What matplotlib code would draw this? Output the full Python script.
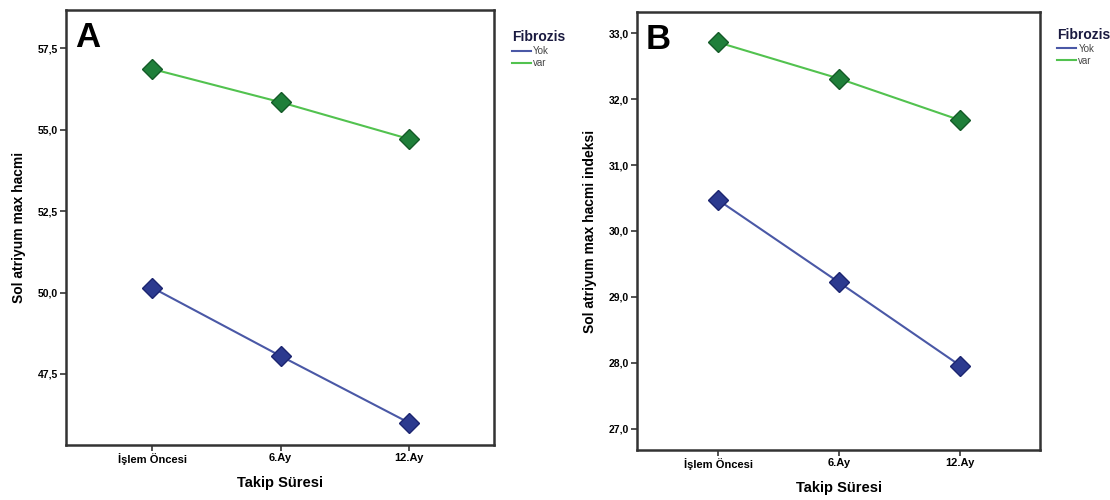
import matplotlib
matplotlib.use("Agg")
import matplotlib.pyplot as plt
from matplotlib.ticker import FuncFormatter

plt.rcParams['font.family'] = ['Liberation Sans', 'DejaVu Sans']

categories = ["İşlem Öncesi", "6.Ay", "12.Ay"]
groups = ["Yok", "var"]
vol_yok = [50.15, 48.05, 46.0]
vol_var = [56.86, 55.84, 54.71]
idx_yok = [30.47, 29.22, 27.96]
idx_var = [32.86, 32.31, 31.68]
a_ticks = [47.5, 50.0, 52.5, 55.0, 57.5]
b_ticks = [27.0, 28.0, 29.0, 30.0, 31.0, 32.0, 33.0]

line_cols = {"Yok": "#4a58a6", "var": "#52c24f"}
mk_cols = {"Yok": "#2c3a8f", "var": "#1f7f3a"}
mk_edge = {"Yok": "#1c2570", "var": "#145a28"}

fig = plt.figure(figsize=(11.1, 5.0), dpi=100)
axA = fig.add_axes([66/1110, 1-445/500, (494-66)/1110, (445-10)/500])
axB = fig.add_axes([637/1110, 1-450/500, (1040-637)/1110, (450-12)/500])

fmt = FuncFormatter(lambda v, p: f"{v:.1f}".replace(".", ","))

def panel(ax, yok, var, ylim, yticks, ylabel, letter, leg_anchor):
    x = list(range(len(categories)))
    for g, vals in (("Yok", yok), ("var", var)):
        ax.plot(x, vals, color=line_cols[g], lw=1.5, label=g, zorder=2)
        ax.plot(x, vals, ls="none", marker="D", ms=10, mfc=mk_cols[g],
                mec=mk_edge[g], mew=1.0, zorder=3)
    ax.set_xlim(-0.67, 2.66)
    ax.set_ylim(*ylim)
    ax.set_xticks(x)
    ax.set_xticklabels(categories, fontsize=8, fontweight="bold")
    ax.set_yticks(yticks)
    ax.yaxis.set_major_formatter(fmt)
    for lab in ax.get_yticklabels():
        lab.set_fontsize(7.5)
        lab.set_fontweight("bold")
    ax.tick_params(direction="out", length=4, width=1.2, color="#333333", pad=2)
    for s in ax.spines.values():
        s.set_linewidth(1.8)
        s.set_color("#333333")
    ax.set_xlabel("Takip Süresi", fontsize=10.5, fontweight="bold", labelpad=8)
    ax.set_ylabel(ylabel, fontsize=10, fontweight="bold", labelpad=8)
    ax.text(0.022, 0.975, letter, transform=ax.transAxes, fontsize=25,
            fontweight="bold", va="top", ha="left")
    leg = ax.legend(loc="upper left", bbox_to_anchor=leg_anchor, frameon=False,
                    title="Fibrozis", fontsize=7, handlelength=2.0,
                    handletextpad=0.2, labelspacing=0.2, borderpad=0.0,
                    alignment="left")
    leg.get_title().set_fontweight("bold")
    leg.get_title().set_fontsize(10)
    leg.get_title().set_color("#1a1a40")
    for t in leg.get_texts():
        t.set_color("#444444")

panel(axA, vol_yok, vol_var, (45.32, 58.67), a_ticks, "Sol atriyum max hacmi", "A",
      (1.03, 0.965))
panel(axB, idx_yok, idx_var, (26.68, 33.32), b_ticks,
      "Sol atriyum max hacmi indeksi", "B", (1.03, 0.975))

fig.savefig("out.png", dpi=100)
